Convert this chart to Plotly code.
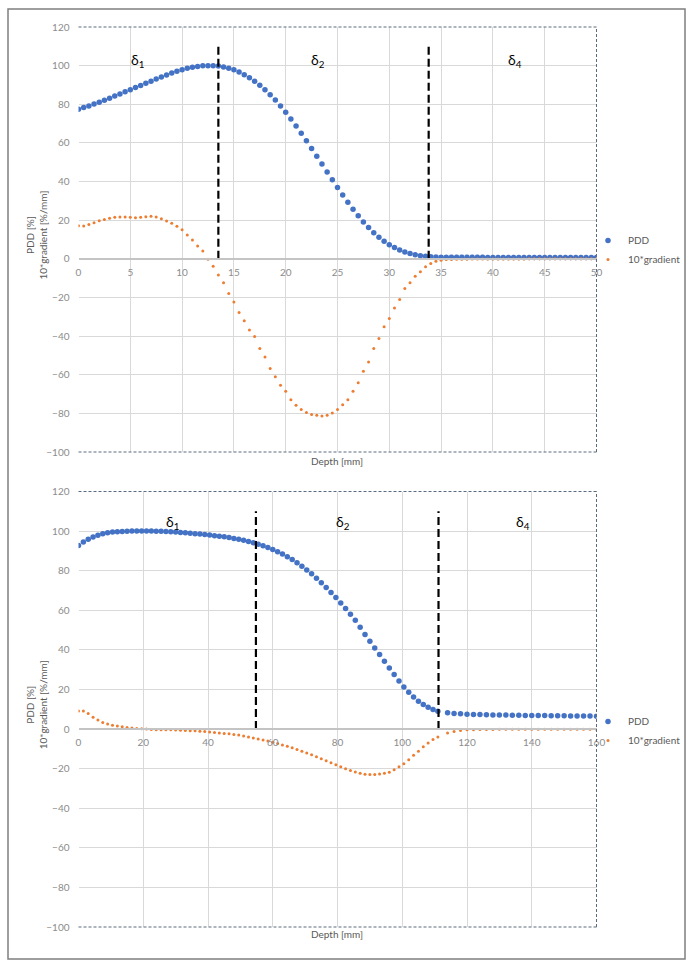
import plotly.graph_objects as go

# ---------------- data: top chart ----------------
top_depth = [0.0, 0.5, 1.0, 1.5, 2.0, 2.5, 3.0, 3.5, 4.0, 4.5,
             5.0, 5.5, 6.0, 6.5, 7.0, 7.5, 8.0, 8.5, 9.0, 9.5,
             10.0, 10.5, 11.0, 11.5, 12.0, 12.5, 13.0, 13.5, 14.0, 14.5,
             15.0, 15.5, 16.0, 16.5, 17.0, 17.5, 18.0, 18.5, 19.0, 19.5,
             20.0, 20.5, 21.0, 21.5, 22.0, 22.5, 23.0, 23.5, 24.0, 24.5,
             25.0, 25.5, 26.0, 26.5, 27.0, 27.5, 28.0, 28.5, 29.0, 29.5,
             30.0, 30.5, 31.0, 31.5, 32.0, 32.5, 33.0, 33.5, 34.0, 34.5,
             35.0, 35.5, 36.0, 36.5, 37.0, 37.5, 38.0, 38.5, 39.0, 39.5,
             40.0, 40.5, 41.0, 41.5, 42.0, 42.5, 43.0, 43.5, 44.0, 44.5,
             45.0, 45.5, 46.0, 46.5, 47.0, 47.5, 48.0, 48.5, 49.0, 49.5,
             50.0]
top_pdd = [77.4, 78.27, 79.16, 80.10, 81.08, 82.10, 83.16, 84.24, 85.35, 86.46,
           87.56, 88.65, 89.74, 90.85, 91.97, 93.08, 94.16, 95.19, 96.17, 97.07,
           97.89, 98.59, 99.16, 99.60, 99.89, 100.0, 99.95, 99.75, 99.34, 98.70,
           97.82, 96.69, 95.32, 93.71, 91.88, 89.83, 87.54, 84.98, 82.16, 79.10,
           75.85, 72.41, 68.78, 65.00, 61.10, 57.13, 53.11, 49.06, 45.00, 40.96,
           36.98, 33.09, 29.32, 25.70, 22.27, 19.08, 16.16, 13.51, 11.17, 9.12,
           7.34, 5.81, 4.52, 3.49, 2.69, 2.07, 1.61, 1.28, 1.06, 0.94,
           0.87, 0.83, 0.80, 0.79, 0.78, 0.77, 0.76, 0.76, 0.75, 0.74,
           0.74, 0.73, 0.72, 0.72, 0.71, 0.70, 0.70, 0.69, 0.69, 0.68,
           0.67, 0.67, 0.66, 0.66, 0.65, 0.65, 0.64, 0.63, 0.63, 0.62,
           0.62]
top_grad = [17.1, 17.0, 17.8, 18.7, 19.7, 20.4, 21.0, 21.5, 21.7, 21.7,
            21.5, 21.3, 21.5, 21.8, 22.0, 21.7, 20.8, 19.6, 18.4, 16.8,
            15.0, 12.3, 9.7, 6.7, 4.0, -0.2, -3.8, -8.4, -12.4, -17.9,
            -22.3, -27.8, -32.1, -36.9, -40.2, -46.4, -50.8, -56.8, -61.1, -65.4,
            -68.5, -72.9, -75.8, -78.0, -79.6, -80.6, -81.0, -81.3, -81.0, -79.8,
            -78.0, -75.5, -72.9, -68.5, -64.2, -58.2, -53.4, -46.4, -41.3, -35.2,
            -30.9, -25.4, -21.0, -15.3, -12.4, -9.0, -6.7, -4.1, -2.4, -1.2,
            -0.7, -0.4, -0.3, -0.2, -0.2, -0.2, -0.1, -0.1, -0.1, -0.1,
            -0.1, -0.1, -0.1, -0.1, -0.1, -0.1, -0.1, 0.0, 0.0, 0.0,
            0.0, 0.0, 0.0, 0.0, 0.0, 0.0, 0.0, 0.0, 0.0, 0.0,
            0.0]
top_xticks = [0, 5, 10, 15, 20, 25, 30, 35, 40, 45, 50]
top_boundaries = [13.5, 33.8]

# ---------------- data: bottom chart ----------------
bot_depth = [0.0, 1.5, 3.0, 4.5, 6.0, 7.5, 9.0, 10.5, 12.0, 13.5,
             15.0, 16.5, 18.0, 19.5, 21.0, 22.5, 24.0, 25.5, 27.0, 28.5,
             30.0, 31.5, 33.0, 34.5, 36.0, 37.5, 39.0, 40.5, 42.0, 43.5,
             45.0, 46.5, 48.0, 49.5, 51.0, 52.5, 54.0, 55.5, 57.0, 58.5,
             60.0, 61.5, 63.0, 64.5, 66.0, 67.5, 69.0, 70.5, 72.0, 73.5,
             75.0, 76.5, 78.0, 79.5, 81.0, 82.5, 84.0, 85.5, 87.0, 88.5,
             90.0, 91.5, 93.0, 94.5, 96.0, 97.5, 99.0, 100.5, 102.0, 103.5,
             105.0, 106.5, 108.0, 109.5, 111.0,
             114, 116, 118, 120, 122, 124, 126, 128, 130, 132,
             134, 136, 138, 140, 142, 144, 146, 148, 150, 152,
             154, 156, 158, 160]
bot_pdd = [92.7, 94.5, 95.9, 97.0, 97.9, 98.6, 99.1, 99.5, 99.7, 99.85,
           99.95, 100.0, 100.0, 100.0, 100.0, 100.0, 99.95, 99.9, 99.8, 99.65,
           99.5, 99.3, 99.1, 98.9, 98.7, 98.5, 98.25, 98.0, 97.7, 97.4,
           97.1, 96.7, 96.3, 95.9, 95.4, 94.8, 94.1, 93.4, 92.6, 91.7,
           90.7, 89.6, 88.4, 87.1, 85.6, 84.0, 82.3, 80.4, 78.4, 76.2,
           73.9, 71.5, 69.0, 66.4, 63.7, 60.9, 58.0, 54.9, 51.4, 47.8,
           44.4, 41.0, 37.6, 34.2, 30.8, 27.5, 24.3, 21.3, 18.6, 16.2,
           14.1, 12.4, 11.0, 9.9, 9.0,
           8.2, 7.9, 7.7, 7.5, 7.4, 7.3, 7.2, 7.15, 7.1, 7.05,
           7.0, 6.95, 6.9, 6.85, 6.8, 6.8, 6.75, 6.7, 6.7, 6.65,
           6.6, 6.6, 6.55, 6.5]
bot_grad = [9.1, 9.1, 7.8, 6.0, 4.6, 3.3, 2.5, 1.9, 1.5, 1.1,
            0.8, 0.5, 0.3, 0.2, 0.0, -0.2, -0.3, -0.3, -0.4, -0.4,
            -0.5, -0.6, -0.7, -0.8, -0.9, -1.1, -1.3, -1.5, -1.8, -2.0,
            -2.2, -2.4, -2.7, -3.0, -3.5, -4.0, -4.5, -5.0, -5.5, -6.1,
            -6.7, -7.3, -8.0, -8.7, -9.5, -10.3, -11.2, -12.1, -13.0, -14.0,
            -15.0, -16.0, -17.0, -18.0, -19.0, -20.0, -20.9, -21.7, -22.3, -22.8,
            -23.0, -23.0, -22.7, -22.3, -21.8, -20.6, -19.0, -17.5, -15.5, -13.3,
            -11.2, -9.0, -7.0, -5.3, -4.0,
            -2.0, -1.2, -0.7, -0.4, -0.3, -0.2, -0.2, -0.2, -0.1, -0.1,
            -0.1, -0.1, -0.1, -0.1, -0.1, -0.1, -0.1, -0.1, -0.1, -0.1,
            -0.1, -0.1, -0.1, -0.1]
bot_xticks = [0, 20, 40, 60, 80, 100, 120, 140, 160]
bot_boundaries = [54.8, 111.2]

y_ticks = [-100, -80, -60, -40, -20, 0, 20, 40, 60, 80, 100, 120]
series_names = ["PDD", "10*gradient"]
region_labels = ["δ<sub>1</sub>", "δ<sub>2</sub>", "δ<sub>4</sub>"]

# ---------------- styling ----------------
W, H = 694, 968
FONT = "Lato"
BLUE = "#4472C4"
ORANGE = "#ED7D31"
GRID = "#d9d9d9"
TICKC = "#8c8c8c"
TITLEC = "#595959"
BORDER = "#5b6b7f"

X_DOM = [78.5 / W, 596.5 / W]
TOP_DOM = [(H - 452) / H, (H - 27) / H]
BOT_DOM = [(H - 927) / H, (H - 491.5) / H]


def ypos(dom, value):
    return dom[0] + (value + 100) / 220 * (dom[1] - dom[0])


fig = go.Figure()

panels = [
    ("x", "y", top_depth, top_pdd, top_grad, top_boundaries, "legend"),
    ("x2", "y2", bot_depth, bot_pdd, bot_grad, bot_boundaries, "legend2"),
]
for xa, ya, dep, pdd, grad, bnd, lg in panels:
    fig.add_trace(go.Scatter(x=dep, y=pdd, mode="markers", name=series_names[0],
                             marker=dict(color=BLUE, size=5.5), xaxis=xa, yaxis=ya,
                             legend=lg))
    fig.add_trace(go.Scatter(x=dep, y=grad, mode="markers", name=series_names[1],
                             marker=dict(color=ORANGE, size=3), xaxis=xa, yaxis=ya,
                             legend=lg))
    for b in bnd:
        fig.add_trace(go.Scatter(x=[b, b], y=[0, 110], mode="lines", showlegend=False,
                                 line=dict(color="black", width=2.2, dash="8px,4px"),
                                 xaxis=xa, yaxis=ya, hoverinfo="skip"))

common_x = dict(showgrid=True, gridcolor=GRID, gridwidth=1, zeroline=False,
                showline=True, linecolor="#c4c4c4", linewidth=1.5, ticks="",
                tickfont=dict(family=FONT, size=10, color=TICKC), anchor="free",
                ticklabelstandoff=4, domain=X_DOM)
common_y = dict(showgrid=True, gridcolor=GRID, gridwidth=1, zeroline=False,
                showline=False, ticks="", range=[-100, 120], tickvals=y_ticks,
                tickfont=dict(family=FONT, size=10, color=TICKC),
                ticklabelstandoff=8)

legend_common = dict(xanchor="left", yanchor="top",
                     font=dict(family=FONT, size=10, color=TITLEC),
                     bgcolor="rgba(0,0,0,0)", itemwidth=30, tracegroupgap=0,
                     borderwidth=0)

fig.update_layout(
    width=W, height=H, margin=dict(l=0, r=0, t=0, b=0, autoexpand=False),
    paper_bgcolor="white", plot_bgcolor="white",
    font=dict(family=FONT),
    xaxis=dict(common_x, range=[0, 50], tickvals=top_xticks,
               position=ypos(TOP_DOM, 0)),
    yaxis=dict(common_y, domain=TOP_DOM, anchor="x"),
    xaxis2=dict(common_x, range=[0, 160], tickvals=bot_xticks,
                position=ypos(BOT_DOM, 0)),
    yaxis2=dict(common_y, domain=BOT_DOM, anchor="x2"),
    legend=dict(legend_common, x=588 / W, y=(H - 226) / H),
    legend2=dict(legend_common, x=588 / W, y=(H - 707) / H),
    showlegend=True,
)

shapes = []
# outer frame
shapes.append(dict(type="rect", xref="paper", yref="paper",
                   x0=8 / W, x1=685 / W, y0=(H - 959) / H, y1=(H - 9) / H,
                   line=dict(color="#7f7f7f", width=1.5)))
# dashed plot borders (top, right, bottom)
for xr, yr in (("x domain", "y domain"), ("x2 domain", "y2 domain")):
    for (x0, y0, x1, y1) in ((0, 1, 1, 1), (1, 0, 1, 1), (0, 0, 1, 0)):
        shapes.append(dict(type="line", xref=xr, yref=yr, x0=x0, y0=y0, x1=x1, y1=y1,
                           line=dict(color=BORDER, width=1, dash="3px,2px")))
fig.update_layout(shapes=shapes)

ann = []
# region labels
for xr, yr, xs, yv in (("x", "y", [5.7, 23.1, 42.1], 102.5),
                       ("x2", "y2", [28.9, 81.7, 137.4], 104.5)):
    for lbl, xv in zip(region_labels, xs):
        ann.append(dict(xref=xr, yref=yr, x=xv, y=yv, text=lbl, showarrow=False,
                        xanchor="center", yanchor="middle",
                        font=dict(family=FONT, size=14, color="black")))
# axis titles
for dom, ytitle in ((TOP_DOM, 461), (BOT_DOM, 934)):
    ann.append(dict(xref="paper", yref="paper", x=337 / W, y=(H - ytitle) / H,
                    text="Depth [mm]", showarrow=False,
                    xanchor="center", yanchor="middle",
                    font=dict(family=FONT, size=10, color=TITLEC)))
    ann.append(dict(xref="paper", yref="paper", x=36 / W,
                    y=(dom[0] + dom[1]) / 2 + 4 / H,
                    text="PDD [%]<br>10*gradient [%/mm]", showarrow=False,
                    xanchor="center", yanchor="middle",
                    textangle=-90, font=dict(family=FONT, size=10, color=TITLEC)))
fig.update_layout(annotations=ann)

fig.write_html(
    "out.html",
    config={"displayModeBar": False},
    post_script="document.body.style.margin='0';document.body.style.overflow='hidden';",
)
